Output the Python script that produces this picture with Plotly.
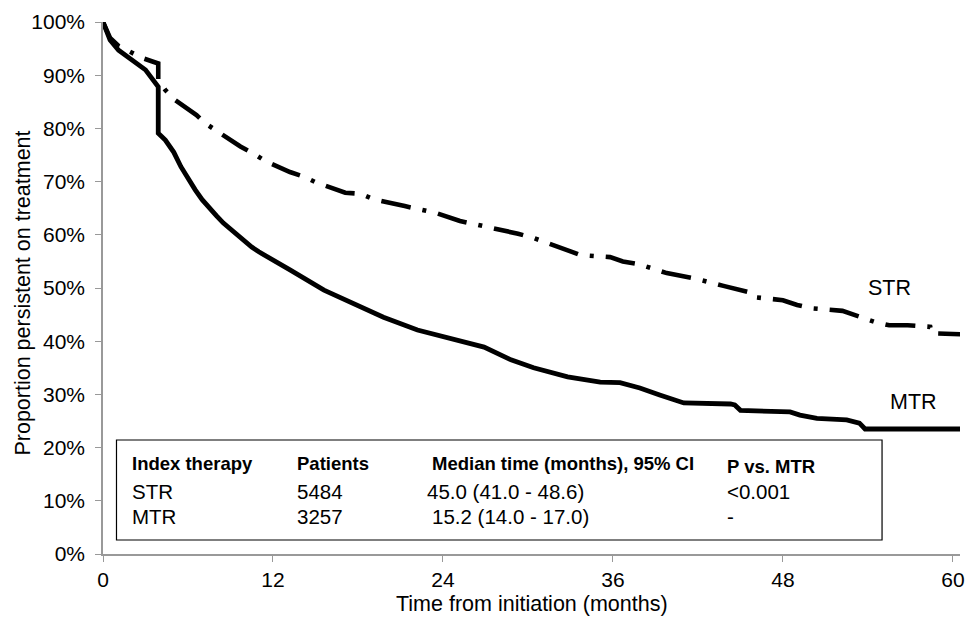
import plotly.graph_objects as go

# ---- data ----
mtr_months = [0, 0.5, 1.1, 1.9, 3.0, 3.9, 3.9, 4.4, 5.0, 5.5, 6.0, 6.5, 7.0, 7.5, 8.0, 8.5,
              9.0, 9.5, 10.0, 10.5, 11.0, 12.0, 13.2, 15.6, 17.5, 19.8, 22.2, 24.5, 26.9,
              28.8, 30.4, 32.8, 35.1, 36.5, 37.9, 39.3, 41, 44.3, 44.6, 45, 48.5, 49.2,
              50.4, 52.5, 53.4, 53.8, 60.6]
mtr_values = [100, 96.6, 94.7, 93.2, 91, 87.8, 79.1, 77.8, 75.5, 72.8, 70.5, 68.5, 66.6, 65.0,
              63.6, 62.2, 61.0, 59.8, 58.7, 57.7, 56.8, 55.3, 53.4, 49.6, 47.4, 44.5, 42.1,
              40.6, 38.9, 36.5, 35, 33.3, 32.3, 32.2, 31.2, 29.9, 28.4, 28.2, 28.0, 27, 26.7,
              26.1, 25.5, 25.2, 24.6, 23.5, 23.5]

str_months = [0, 0.5, 1.1, 1.9, 2.8, 3.9, 3.9, 4.4, 5.1, 6.6, 7.2, 8.1, 9.7, 10.6, 11.5,
              13.2, 14.2, 15, 17.1, 18.2, 19.1, 21.3, 22.4, 23.5, 25.2, 26.3, 27.2, 29.3,
              30.4, 31.4, 33.1, 33.7, 35.8, 36.7, 37.8, 39.8, 40.9, 41.9, 43.8, 45.1,
              45.6, 45.9, 48.0, 49, 50.0, 52.2, 52.6, 54.5, 55.5, 56.8, 58.4, 58.5, 60.6]
str_values = [100, 97, 95.5, 94.5, 93.2, 92.2, 89.1, 87.2, 85.3, 82.5, 81, 79.4, 76.6, 75.3, 73.8,
              71.8, 70.9, 69.9, 67.9, 67.7, 66.7, 65.4, 64.8, 64.1, 62.6, 62, 61.3, 60.2,
              59.4, 58.5, 56.8, 56.2, 55.8, 55.0, 54.5, 52.8, 52.3, 51.7, 50.4, 49.6,
              49.2, 48.3, 47.7, 46.8, 46.2, 45.7, 45.3, 43.6, 43.0, 43.0, 42.7, 41.5, 41.3]

x_ticks = [0, 12, 24, 36, 48, 60]
y_ticks = [0, 10, 20, 30, 40, 50, 60, 70, 80, 90, 100]

table_header = ["Index therapy", "Patients", "Median time (months), 95% CI", "P vs. MTR"]
table_rows = [
    ["STR", "5484", "45.0 (41.0 - 48.6)", "<0.001"],
    ["MTR", "3257", "15.2 (14.0 - 17.0)", "-"],
]

FONT = "Liberation Sans, Arial, Helvetica, sans-serif"

W, H = 967, 618
PLOT_L, PLOT_R, PLOT_T, PLOT_B = 102.5, 960, 22, 554   # window pixels

def px_x(p):
    return (p - PLOT_L) / (PLOT_R - PLOT_L)

def px_y(p):
    return (PLOT_B - p) / (PLOT_B - PLOT_T)

fig = go.Figure()
fig.add_trace(go.Scatter(
    x=mtr_months, y=[v / 100 for v in mtr_values], mode="lines",
    line=dict(color="black", width=4.8), cliponaxis=False, showlegend=False))
fig.add_trace(go.Scatter(
    x=str_months, y=[v / 100 for v in str_values], mode="lines",
    line=dict(color="black", width=4.6, dash="30px,12px,4px,12px"),
    cliponaxis=False, showlegend=False))

# curve labels
fig.add_annotation(x=55.5, y=0.50, xref="x", yref="y", text="STR", showarrow=False,
                   xanchor="center", yanchor="middle",
                   font=dict(size=21.5, color="black", family=FONT))
fig.add_annotation(x=57.2, y=0.286, xref="x", yref="y", text="MTR", showarrow=False,
                   xanchor="center", yanchor="middle",
                   font=dict(size=21.5, color="black", family=FONT))

# table box
fig.add_shape(type="rect", xref="paper", yref="paper",
              x0=px_x(116), x1=px_x(882), y0=px_y(540), y1=px_y(440),
              line=dict(color="black", width=1.2), fillcolor="white")
col_x = [130, 295, 430, 725]
row_y = [463, 491, 516]
for i, h in enumerate(table_header):
    yy = row_y[0] + (3 if i == 3 else 0)
    fig.add_annotation(x=px_x(col_x[i]), y=px_y(yy), xref="paper", yref="paper",
                       text="<b>" + h + "</b>", showarrow=False, xanchor="left", yanchor="middle",
                       font=dict(size=18.5, color="black", family=FONT))
for r, row in enumerate(table_rows):
    for i, c in enumerate(row):
        xx = col_x[i] - (5 if i == 2 and r == 0 else 0)
        fig.add_annotation(x=px_x(xx), y=px_y(row_y[r + 1]),
                           xref="paper", yref="paper", text=c, showarrow=False,
                           xanchor="left", yanchor="middle",
                           font=dict(size=20.5, color="black", family=FONT))

# axis titles
fig.add_annotation(x=px_x(532), y=px_y(604), xref="paper", yref="paper",
                   text="Time from initiation (months)", showarrow=False,
                   xanchor="center", yanchor="middle",
                   font=dict(size=21.5, color="black", family=FONT))
fig.add_annotation(x=px_x(22), y=px_y(293), xref="paper", yref="paper",
                   text="Proportion persistent on treatment", showarrow=False, textangle=-90,
                   xanchor="center", yanchor="middle",
                   font=dict(size=21.5, color="black", family=FONT))

fig.update_layout(
    width=W, height=H,
    margin=dict(l=PLOT_L, r=W - PLOT_R, t=PLOT_T, b=H - PLOT_B, autoexpand=False),
    paper_bgcolor="white", plot_bgcolor="white",
    font=dict(family=FONT, size=21, color="black"),
    showlegend=False,
)
fig.update_xaxes(range=[0, 60.5], tickvals=x_ticks, ticktext=[str(t) for t in x_ticks],
                 showgrid=False, zeroline=False, showline=True, linecolor="#999999",
                 linewidth=1.5, ticks="outside", ticklen=6, tickcolor="#999999",
                 tickfont=dict(size=21, color="black"), ticklabelstandoff=0)
fig.update_yaxes(range=[0, 1.0], tickvals=[t / 100 for t in y_ticks],
                 ticktext=[f"{t}%" for t in y_ticks],
                 showgrid=False, zeroline=False, showline=True, linecolor="#999999",
                 linewidth=1.5, ticks="outside", ticklen=6, tickcolor="#999999",
                 tickfont=dict(size=21, color="black"), ticklabelstandoff=6)

fig.write_html("out.html",
               config={"displayModeBar": False},
               post_script="document.body.style.margin='0';"
                           "document.documentElement.style.overflow='hidden';")
